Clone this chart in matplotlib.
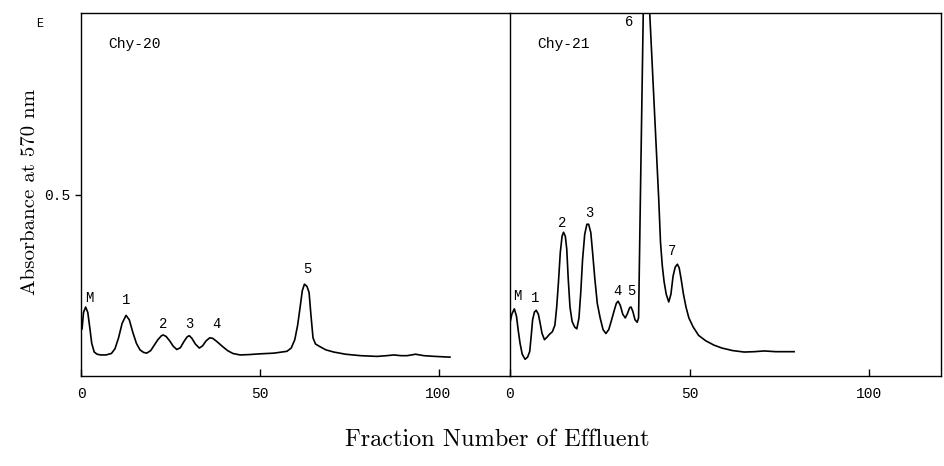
import matplotlib.pyplot as plt

# Chy-20 trace (fraction number, absorbance)
x20 = [0.3, 0.7, 1.3, 1.9, 2.5, 3.0, 3.7, 4.5, 5.5, 7.0, 8.5, 9.5, 10.5, 11.5, 12.6,
       13.5, 14.5, 15.5, 16.5, 17.5, 18.4, 19.5, 20.5, 21.5, 22.5, 23.0, 23.8, 24.8,
       25.8, 26.8, 27.8, 28.8, 29.7, 30.3, 31.0, 32.0, 33.1, 34.0, 35.0, 36.0, 36.8,
       38.0, 39.5, 41.0, 42.5, 44.5, 47.0, 50.0, 54.0, 57.6, 58.8, 59.8, 60.6, 61.3,
       61.9, 62.5, 63.2, 63.8, 64.3, 64.9, 65.6, 67.0, 68.5, 70.7, 74.0, 78.2, 82.8,
       85.5, 87.5, 89.5, 91.2, 93.6, 95.9, 99.0, 103.2]
y20 = [0.13, 0.175, 0.19, 0.175, 0.13, 0.09, 0.066, 0.06, 0.058, 0.058, 0.062, 0.075, 0.105, 0.145, 0.167,
       0.155, 0.12, 0.09, 0.072, 0.065, 0.063, 0.07, 0.085, 0.1, 0.111, 0.113, 0.109, 0.097,
       0.082, 0.073, 0.078, 0.095, 0.108, 0.111, 0.104, 0.088, 0.077, 0.083, 0.097, 0.105, 0.104,
       0.095, 0.082, 0.07, 0.062, 0.058, 0.059, 0.061, 0.063, 0.068, 0.077, 0.1, 0.14, 0.19,
       0.235, 0.253, 0.247, 0.23, 0.17, 0.105, 0.088, 0.08, 0.072, 0.066, 0.06, 0.056, 0.054,
       0.056, 0.058, 0.056, 0.056, 0.06, 0.056, 0.054, 0.052]

# Chy-21 trace
x21 = [0.0, 0.5, 1.2, 1.8, 2.3, 2.8, 3.4, 4.2, 4.9, 5.5, 5.9, 6.3, 6.8, 7.3, 7.9, 8.4,
       8.9, 9.6, 10.3, 11.0, 11.8, 12.5, 13.0, 13.5, 14.0, 14.5, 14.9, 15.4, 15.8, 16.2,
       16.7, 17.3, 18.0, 18.6, 19.2, 19.7, 20.2, 20.8, 21.4, 21.9, 22.5, 23.0, 23.6, 24.3,
       25.1, 25.9, 26.7, 27.5, 28.3, 29.0, 29.6, 30.1, 30.7, 31.4, 32.1, 32.7, 33.3, 33.7,
       34.2, 34.8, 35.4, 35.8, 36.3, 37.1, 38.0, 38.9, 41.4, 41.9, 42.4, 42.9, 43.5, 44.2,
       44.8, 45.4, 46.0, 46.6, 47.1, 47.6, 48.3, 49.0, 49.8, 51.0, 52.5, 54.5, 56.8, 59.0,
       62.0, 65.2, 68.0, 70.8, 74.0, 79.1]
y21 = [0.146, 0.17, 0.185, 0.165, 0.125, 0.09, 0.06, 0.046, 0.052, 0.068, 0.11, 0.155, 0.176, 0.181, 0.17, 0.145,
       0.118, 0.1, 0.107, 0.115, 0.122, 0.14, 0.19, 0.26, 0.34, 0.385, 0.396, 0.385, 0.35, 0.27,
       0.19, 0.15, 0.135, 0.13, 0.16, 0.23, 0.32, 0.39, 0.418, 0.418, 0.395, 0.34, 0.27, 0.2,
       0.16, 0.128, 0.117, 0.128, 0.155, 0.18, 0.2, 0.206, 0.195, 0.17, 0.16, 0.172, 0.188, 0.19,
       0.178, 0.155, 0.148, 0.16, 0.49, 1.0, 1.4, 1.0, 0.489, 0.369, 0.304, 0.26, 0.225, 0.204,
       0.225, 0.275, 0.3, 0.308, 0.298, 0.27, 0.225, 0.19, 0.16, 0.135, 0.112, 0.097, 0.085, 0.077,
       0.07, 0.066, 0.067, 0.069, 0.067, 0.067]

peaks20 = ['M', '1', '2', '3', '4', '5']
px20 = [2.3, 12.6, 22.9, 30.3, 38.0, 63.3]
py20 = [0.214, 0.209, 0.144, 0.144, 0.144, 0.294]

peaks21 = ['M', '1', '2', '3', '4', '5', '6', '7']
px21 = [1.9, 7.0, 14.6, 22.2, 29.9, 33.8, 33.3, 45.2]
py21 = [0.22, 0.216, 0.422, 0.45, 0.234, 0.234, 0.975, 0.343]

mono = 'Liberation Mono'
serif = ['cmr10', 'DejaVu Serif']

fig = plt.figure(figsize=(9.44, 4.66), dpi=100)
ax1 = fig.add_axes([81/944, 90/466, 429/944, 363/466])
ax2 = fig.add_axes([510/944, 90/466, 431/944, 363/466])

for ax, x, y, labs, lx, ly, name in [(ax1, x20, y20, peaks20, px20, py20, 'Chy-20'),
                                      (ax2, x21, y21, peaks21, px21, py21, 'Chy-21')]:
    ax.plot(x, y, color='black', lw=1.2)
    ax.set_xlim(0, 120)
    ax.set_ylim(0, 1.0)
    ax.set_xticks([0, 50, 100])
    ax.tick_params(axis='x', direction='in', length=5, width=1, pad=8)
    for lab in ax.get_xticklabels():
        lab.set_fontfamily(mono)
        lab.set_fontsize(10.5)
    for sp in ax.spines.values():
        sp.set_linewidth(1.0)
    for t, a, b in zip(labs, lx, ly):
        ax.text(a, b, t, ha='center', va='center', fontsize=10, family=mono)
    ax.text(0.063, 0.915, name, transform=ax.transAxes, fontsize=10.5, family=mono,
            ha='left', va='center')

ax1.set_yticks([0.5])
ax1.set_yticklabels(['0.5'], fontfamily=mono, fontsize=10.5)
ax1.tick_params(axis='y', direction='out', length=4, width=1)
ax1.spines['right'].set_visible(False)
ax2.set_yticks([])

fig.text(40/944, 1 - 24/466, 'E', fontsize=8.5, family=mono, ha='center', va='center')
fig.text(30/944, 1 - 192/466, 'Absorbance at 570 nm', rotation=90, fontsize=15,
         family=serif, ha='center', va='center')
fig.text(497/944, 1 - 440/466, 'Fraction Number of Effluent', fontsize=17.5,
         family=serif, ha='center', va='center')

fig.savefig('out.png', dpi=100)
